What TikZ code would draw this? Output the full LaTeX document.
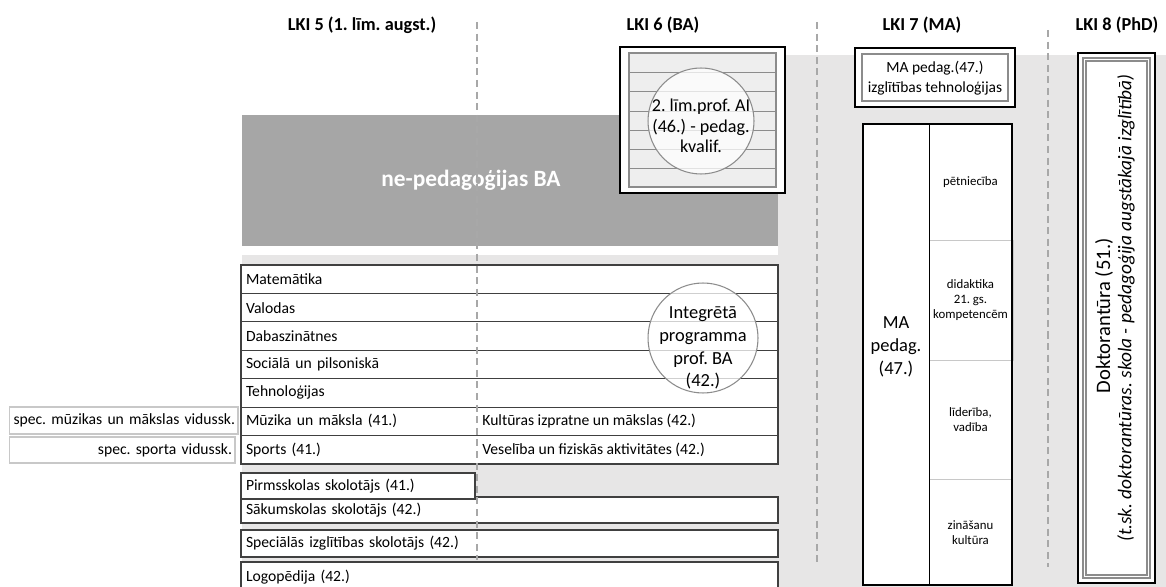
\documentclass[tikz,border=0pt]{standalone}
\usepackage{fontspec}
\setmainfont{Carlito}
\usetikzlibrary{positioning}

\definecolor{bggray}{RGB}{231,230,230}
\definecolor{dkgray}{RGB}{166,166,166}
\definecolor{dashgray}{RGB}{168,168,168}
\definecolor{linegray}{RGB}{64,64,64}
\definecolor{ringgray}{RGB}{140,140,140}
\definecolor{sidegray}{RGB}{200,200,200}
\definecolor{stripegray}{RGB}{238,238,238}

\begin{document}
\frenchspacing
\begin{tikzpicture}[x=0.02cm, y=-0.02cm, node distance=0pt]
    \tikzstyle{header}   = [font=\fontsize{10.4}{12}\selectfont\bfseries]
    \tikzstyle{row}      = [rectangle, draw=linegray, line width=0.4pt, fill=white, outer sep=0pt, inner xsep=0.1cm, inner ysep=0pt, text width=10.54cm, minimum height=0.5686cm, align=left, font=\fontsize{8.9}{10.5}\selectfont]
    \tikzstyle{lowrow}   = [row, line width=0.7pt]
    \tikzstyle{sidebox}  = [rectangle, draw=sidegray, line width=0.6pt, fill=white, outer sep=0pt, inner xsep=0.06cm, inner ysep=0pt, align=right, font=\fontsize{8.9}{10.5}\selectfont]
    \tikzstyle{celltext} = [inner xsep=0.08cm, font=\fontsize{8.9}{10.5}\selectfont]
    \tikzstyle{ring}     = [circle, draw=ringgray, line width=0.6pt, fill=white, fill opacity=0.75, inner sep=0pt]
    \tikzstyle{ringtext} = [align=center, font=\fontsize{10.5}{13}\selectfont]
    \tikzstyle{thickbox} = [rectangle, draw=black, line width=1.6pt, fill=white, outer sep=0pt]
    \tikzstyle{column}   = [rectangle, draw=black, line width=0.5pt, fill=white, outer sep=0pt]
    \tikzstyle{topic}    = [rectangle, draw=sidegray, line width=0.5pt, fill=white, outer sep=0pt, minimum width=1.66cm, align=center, font=\fontsize{7.3}{8.6}\selectfont]
    \tikzstyle{levelline}= [dashgray, line width=0.7pt, dash pattern=on 4pt off 2.6pt]

    \useasboundingbox (0,0) rectangle (1166,587);

    % Background
    \fill[bggray] (242,55) rectangle (1166,590);
    \fill[white] (236,40) rectangle (778,255);
    \fill[dkgray] (242,115) rectangle (778,246);
    \node [font=\fontsize{13.3}{15}\selectfont\bfseries, text=white] (nonped) at (471,180) {ne-pedagoģijas BA};

    % LKI 6 second level box
    \node [thickbox, minimum width=3.3cm, minimum height=2.92cm] (lim) at (702.5,120) {};
    \fill[stripegray] (629,53) rectangle (776,187);
    \foreach \y in {72,91,111,130,149,168}
        \draw[ringgray, line width=0.5pt] (629,\y) -- (776,\y);
    \draw[ringgray, line width=0.6pt] (629,53) rectangle (776,187);
    \node [ring, minimum size=2.12cm] (limc) at (701,121) {};
    \node [ringtext, font=\fontsize{10.3}{11.8}\selectfont] (limt) at (701,126) {2. līm.prof. AI\\(46.) - pedag.\\kvalif.};

    % LKI 7 boxes
    \node [thickbox, minimum width=3.2cm, minimum height=1.18cm] (matop) at (935,77.5) {};
    \draw[ringgray, line width=0.6pt] (862,54) rectangle (1008,101);
    \node [align=center, font=\fontsize{8.8}{11.3}\selectfont] (matopt) at (935,78.5) {MA pedag.(47.)\\izglītības tehnoloģijas};

    \node [topic, anchor=north west, minimum height=2.32cm] (pet) at (929,124) {pētniecība};
    \node [topic, below=of pet, minimum height=2.4cm] (did) {didaktika\\21. gs.\\kompetencēm};
    \node [topic, below=of did, minimum height=2.4cm] (lid) {līderība,\\vadība};
    \node [topic, below=of lid, minimum height=2.1cm] (zin) {zināšanu\\kultūra};
    \node [column, anchor=north west, minimum width=1.32cm, minimum height=9.22cm] (mped) at (863,124) {};
    \node [align=center, font=\fontsize{10.5}{13}\selectfont] (mpedt) at (mped.center |- 0,347) {MA\\pedag.\\(47.)};
    \draw[black, line width=0.9pt] (mped.north west) rectangle (zin.south east);

    % LKI 8 box
    \node [thickbox, minimum width=1.54cm, minimum height=10.6cm] (dok) at (1116.5,318) {};
    \draw[ringgray, line width=0.6pt] (1083,58) rectangle (1150,578);
    \draw[ringgray, line width=0.6pt] (1086,61) rectangle (1147,575);
    \node [rotate=90, font=\fontsize{11.7}{13}\selectfont] (dokt) at (1104,316) {Doktorantūra (51.)};
    \node [rotate=90, font=\fontsize{11}{13}\selectfont\itshape] (dokit) at (1126,308) {(t.sk. doktorantūras. skola - pedagoģija augstākajā izglītībā)};

    % Integrated programme table
    \node [row, anchor=north west] (mat) at (241,265) {Matemātika};
    \node [row, below=of mat] (val) {Valodas};
    \node [row, below=of val] (dab) {Dabaszinātnes};
    \node [row, below=of dab] (soc) {Sociālā un pilsoniskā};
    \node [row, below=of soc] (teh) {Tehnoloģijas};
    \node [row, below=of teh] (mus) {Mūzika un māksla (41.)};
    \node [row, below=of mus] (spo) {Sports (41.)};
    \draw[linegray, line width=1.1pt] (mat.north west) rectangle (spo.south east);
    \node [celltext, anchor=west] (kul) at (478,421.5) {Kultūras izpratne un mākslas (42.)};
    \node [celltext, anchor=west] (ves) at (478,450) {Veselība un fiziskās aktivitātes (42.)};
    \node [ring, minimum size=2.2cm] (intc) at (703,338) {};
    \node [ringtext] (intt) at (703,348) {Integrētā\\programma\\prof. BA\\(42.)};

    % Special secondary schools
    \node [sidebox, anchor=north east, text width=4.45cm, minimum height=0.54cm] (smu) at (238,407) {spec. mūzikas un mākslas vidussk.};
    \node [sidebox, anchor=north east, text width=4.4cm, minimum height=0.52cm] (ssp) at (235,437) {spec. sporta vidussk.};

    % Teacher programmes
    \node [lowrow, anchor=north west, minimum height=0.52cm] (sak) at (241,497) {Sākumskolas skolotājs (42.)};
    \node [lowrow, anchor=north west, text width=4.48cm, minimum height=0.52cm] (pir) at (241,473) {Pirmsskolas skolotājs (41.)};
    \node [lowrow, below=0.14cm of sak, minimum height=0.54cm] (spe) {Speciālās izglītības skolotājs (42.)};
    \node [lowrow, below=0.1cm of spe, minimum height=0.6cm] (log) {Logopēdija (42.)};

    % Level borders
    \draw[levelline] (477,22) -- (477,560);
    \draw[levelline] (817,22) -- (817,567);
    \draw[levelline] (1048,30) -- (1048,567);

    % Headers
    \node [header] (lki5) at (362,25) {LKI 5 (1. līm. augst.)};
    \node [header] (lki6) at (663,25) {LKI 6 (BA)};
    \node [header] (lki7) at (922,25) {LKI 7 (MA)};
    \node [header] (lki8) at (1117,25) {LKI 8 (PhD)};

\end{tikzpicture}
\end{document}
